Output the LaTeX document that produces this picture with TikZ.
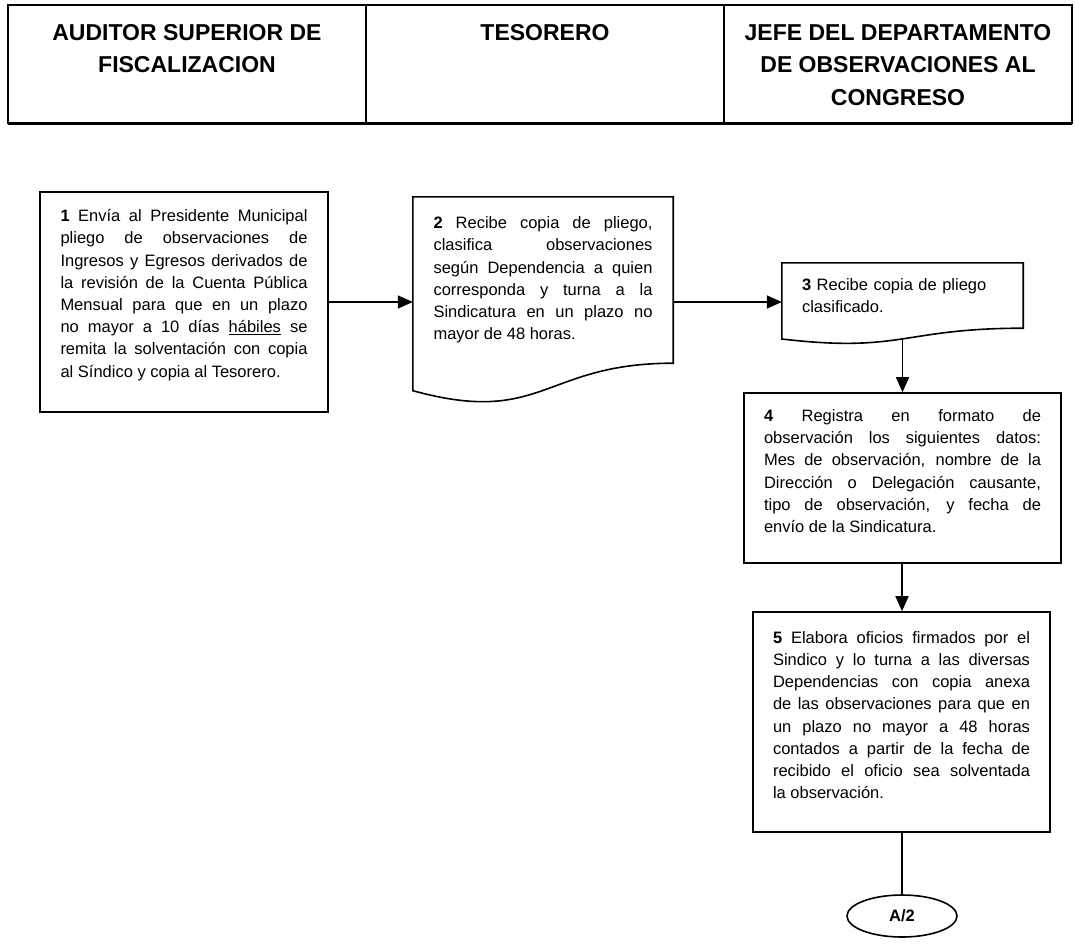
\documentclass[tikz,border=0pt]{standalone}
\usepackage{fontspec}
\setmainfont{Liberation Sans}
\usetikzlibrary{arrows.meta,calc,shapes.geometric}

\tikzset{
  lane/.style={font=\bfseries\fontsize{23}{32.5}\selectfont, align=center, anchor=north, inner sep=0pt},
  stepbox/.style={draw, line width=1.6pt, inner sep=0pt, align=justify,
    font=\fontsize{16.5}{22.2}\selectfont,
    execute at end node={\par\nointerlineskip\rule{0pt}{14pt}}},
  docbox/.style={inner sep=0pt, align=justify, font=\fontsize{16.5}{22.2}\selectfont},
  boxline/.style={line width=1.6pt},
  flow/.style={-{Triangle[length=15pt,width=13pt]}, line width=1.6pt},
  link/.style={line width=1.6pt},
}

% document shape drawn round a node that holds the text
\newcommand{\docwave}[1]{%
  \draw[boxline] let \p1=(#1.north west), \p2=(#1.south east), \n1={\y1-\y2} in
    (\p1) -- (\x2,\y1) -- (\p2)
    .. controls (#1.south) and ($(#1.south)+(0pt,-0.381*\n1)$) ..
    ($(#1.south west)+(0pt,-0.165*\n1)$) -- cycle;
  \path let \p1=(#1.north), \p2=(#1.south), \n1={\y1-\y2} in
    ($(#1.south)+(0pt,-0.163*\n1)$) coordinate (#1w);
}

\begin{document}
\begin{tikzpicture}[x=1pt,y=-1pt]
  \useasboundingbox (0,0) rectangle (1075,946);

  % --- header ---
  \draw[line width=2pt] (8,5) rectangle (1072,123);
  \draw[line width=3pt] (8,123) -- (1072,123);
  \draw[line width=1.4pt] (366,5) -- (366,123);
  \draw[line width=1.4pt] (724,5) -- (724,123);
  \node[lane] (auditor) at (187,24) {AUDITOR SUPERIOR DE\\FISCALIZACION};
  \node[lane] (tesorero) at (545,24) {TESORERO};
  \node[lane] (jefe) at (898,24) {JEFE DEL DEPARTAMENTO\\DE OBSERVACIONES AL\\CONGRESO};

  % --- steps ---
  \node[stepbox, minimum width=288, minimum height=220, text width=247] (paso1) at (184,302)
    {\textbf{1} Envía al Presidente Municipal\linebreak
     pliego de observaciones de\linebreak
     Ingresos y Egresos derivados de\linebreak
     la revisión de la Cuenta Pública\linebreak
     Mensual para que en un plazo\linebreak
     no mayor a 10 días \underline{hábiles} se\linebreak
     remita la solventación con copia\linebreak
     al Síndico y copia al Tesorero.};

  \node[docbox, minimum width=260, minimum height=166, text width=219] (paso2) at (543,280)
    {\textbf{2} Recibe copia de pliego,\linebreak
     clasifica observaciones\linebreak
     según Dependencia a quien\linebreak
     corresponda y turna a la\linebreak
     Sindicatura en un plazo no\linebreak
     mayor de 48 horas.};
  \docwave{paso2}

  \node[docbox, align=left, minimum width=241, minimum height=65, text width=201] (paso3) at (902.5,295.5)
    {\textbf{3} Recibe copia de pliego\\clasificado.};
  \docwave{paso3}

  \node[stepbox, minimum width=317, minimum height=170, text width=277] (paso4) at (902.5,478)
    {\textbf{4} Registra en formato de\linebreak
     observación los siguientes datos:\linebreak
     Mes de observación, nombre de la\linebreak
     Dirección o Delegación causante,\linebreak
     tipo de observación, y fecha de\linebreak
     envío de la Sindicatura.};

  \node[stepbox, minimum width=297, minimum height=220, text width=257] (paso5) at (901.5,722)
    {\textbf{5} Elabora oficios firmados por el\linebreak
     Sindico y lo turna a las diversas\linebreak
     Dependencias con copia anexa\linebreak
     de las observaciones para que en\linebreak
     un plazo no mayor a 48 horas\linebreak
     contados a partir de la fecha de\linebreak
     recibido el oficio sea solventada\linebreak
     la observación.};

  \node[ellipse, draw, line width=1.6pt, minimum width=110, minimum height=42,
    font=\bfseries\fontsize{16.5}{20}\selectfont] (conector) at (902,916) {A/2};

  % --- connectors ---
  \draw[flow] (paso1.east) -- (paso1.east -| paso2.west);
  \draw[flow] (paso1.east -| paso2.east) -- (paso1.east -| paso3.west);
  \draw[flow] (paso3w) -- (paso4.north -| paso3w);
  \draw[flow] (paso4.south -| conector) -- (paso5.north -| conector);
  \draw[link] (paso5.south -| conector) -- (conector.north);
\end{tikzpicture}
\end{document}
